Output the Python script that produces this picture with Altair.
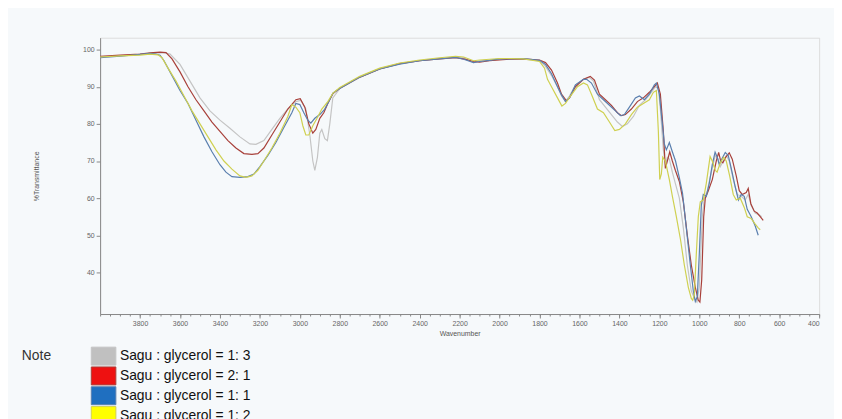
import altair as alt
import pandas as pd

names = ["Sagu : glycerol = 1: 3", "Sagu : glycerol = 2: 1",
         "Sagu : glycerol = 1: 1", "Sagu : glycerol = 1: 2"]
line_colors = ["#c4c4c4", "#a8403a", "#5a7fae", "#cfd050"]
swatch_colors = ["#c0c0c0", "#ee1111", "#1f6fc0", "#ffff00"]

wn_gray = [4000, 3900, 3800, 3750, 3680, 3650, 3600, 3550, 3500, 3450, 3400, 3350, 3300, 3250, 3220,
           3180, 3140, 3100, 3060, 3020, 2995, 2970, 2950, 2935, 2925, 2912, 2900, 2890, 2875, 2862,
           2850, 2835, 2800, 2700, 2600, 2500, 2400, 2300, 2220, 2180, 2130, 2100, 2050, 2000, 1950,
           1880, 1800, 1770, 1740, 1710, 1690, 1670, 1650, 1620, 1580, 1550, 1530, 1500, 1470, 1440,
           1410, 1385, 1360, 1330, 1300, 1270, 1240, 1220, 1205, 1195, 1180, 1170, 1160, 1150, 1135,
           1120, 1100, 1080, 1060, 1040, 1020, 1012, 1000, 985, 975, 960, 940, 920, 905, 895,
           880, 865, 850, 830, 810, 790, 770, 755, 740, 720, 700, 688]
t_gray = [98.0, 98.3, 98.7, 99.0, 99.2, 98.8, 96.0, 91.5, 87.0, 83.5, 81.0, 78.8, 76.5, 74.6, 74.5,
          75.5, 78.5, 81.5, 84.0, 86.0, 86.3, 84.0, 77.0, 70.0, 67.5, 71.0, 77.5, 78.5, 76.0, 75.5,
          80.0, 87.0, 89.5, 92.5, 94.8, 96.2, 97.0, 97.6, 98.0, 97.8, 96.5, 97.0, 97.2, 97.4, 97.5,
          97.4, 97.0, 95.5, 93.0, 90.0, 87.5, 86.0, 87.5, 90.5, 92.0, 92.5, 91.5, 86.5, 84.5, 82.5,
          80.5, 79.3, 80.0, 82.0, 85.0, 86.5, 88.5, 90.0, 89.5, 84.0, 73.0, 69.0, 71.0, 70.5, 67.0,
          64.0, 60.0, 52.0, 42.0, 35.0, 32.5, 32.0, 36.0, 55.0, 60.0, 62.0, 67.0, 71.5, 70.5, 68.5,
          70.0, 71.5, 70.0, 65.0, 61.0, 60.5, 59.5, 61.0, 58.0, 56.0, 55.5, 55.0]

wn_red = [4000, 3900, 3800, 3750, 3700, 3670, 3640, 3600, 3560, 3520, 3480, 3440, 3400, 3360, 3320,
          3280, 3240, 3210, 3180, 3140, 3100, 3060, 3020, 2998, 2975, 2955, 2935, 2920, 2900, 2880,
          2860, 2834, 2800, 2700, 2600, 2500, 2400, 2300, 2220, 2180, 2130, 2100, 2050, 2000, 1950,
          1880, 1800, 1770, 1740, 1710, 1690, 1665, 1650, 1620, 1580, 1546, 1525, 1500, 1470, 1440,
          1410, 1390, 1370, 1340, 1310, 1280, 1250, 1225, 1210, 1195, 1180, 1170, 1160, 1148, 1135,
          1120, 1100, 1080, 1060, 1040, 1020, 1005, 997, 988, 978, 970, 955, 935, 915, 903,
          893, 882, 868, 850, 835, 815, 800, 785, 765, 755, 742, 725, 710, 695, 680]
t_red = [98.2, 98.5, 98.8, 99.1, 99.3, 99.2, 97.5, 94.0, 90.0, 86.5, 83.5, 80.5, 78.0, 75.5, 73.5,
         72.0, 71.8, 72.0, 73.5, 77.0, 80.5, 84.0, 86.5, 86.8, 84.5, 80.0, 77.5, 78.5, 81.5, 83.0,
         85.5, 88.2, 89.6, 92.6, 94.8, 96.2, 97.0, 97.5, 97.8, 97.5, 96.8, 96.6, 97.0, 97.2, 97.4,
         97.5, 97.2, 96.5, 94.5, 91.0, 88.0, 86.2, 87.0, 90.0, 92.0, 92.8, 91.8, 88.0, 86.5, 85.0,
         83.0, 82.2, 82.5, 84.0, 86.0, 87.0, 88.5, 90.0, 91.0, 88.0, 78.0, 68.0, 70.0, 72.5, 70.0,
         67.5, 64.5, 59.0, 50.0, 42.0, 36.0, 32.5, 32.0, 38.0, 55.0, 60.0, 62.0, 65.0, 70.0, 72.3,
         70.0, 69.5, 71.0, 72.2, 70.5, 66.0, 62.0, 61.0, 61.5, 62.6, 58.5, 56.5, 56.0, 55.0, 54.0]

wn_blue = [4000, 3900, 3800, 3750, 3720, 3700, 3680, 3650, 3600, 3560, 3520, 3480, 3440, 3400, 3370,
           3340, 3300, 3260, 3230, 3200, 3160, 3120, 3080, 3040, 3020, 3000, 2980, 2960, 2945, 2925,
           2900, 2876, 2855, 2834, 2800, 2700, 2600, 2500, 2400, 2300, 2220, 2180, 2130, 2100, 2050,
           2000, 1950, 1880, 1800, 1770, 1740, 1710, 1690, 1670, 1650, 1620, 1580, 1564, 1540, 1510,
           1480, 1450, 1420, 1395, 1375, 1350, 1320, 1300, 1275, 1250, 1225, 1215, 1200, 1185, 1175,
           1165, 1150, 1135, 1119, 1100, 1084, 1065, 1045, 1030, 1020, 1010, 1000, 990, 980, 965,
           950, 935, 921, 910, 900, 888, 870, 855, 840, 820, 804, 790, 775, 760, 740, 720, 705]
t_blue = [97.8, 98.2, 98.7, 99.0, 98.8, 98.5, 97.0, 94.0, 89.0, 85.5, 81.0, 76.5, 72.5, 69.0, 67.0,
          65.8, 65.6, 65.8, 66.5, 68.5, 71.5, 75.0, 79.0, 83.0, 85.5, 85.2, 83.0, 81.0, 80.2, 81.5,
          82.5, 83.9, 86.0, 88.3, 89.5, 92.6, 94.8, 96.1, 97.0, 97.5, 97.9, 97.4, 96.5, 96.8, 97.1,
          97.5, 97.5, 97.6, 97.1, 96.0, 93.5, 90.0, 87.8, 86.0, 87.0, 90.5, 92.0, 92.0, 91.0, 88.0,
          86.5, 85.0, 83.5, 82.2, 82.5, 84.5, 87.0, 87.5, 86.5, 88.0, 90.5, 91.0, 88.0, 80.0, 74.6,
          73.0, 75.0, 72.5, 70.0, 65.5, 61.3, 52.0, 42.0, 35.0, 32.2, 33.5, 45.0, 58.0, 61.0, 60.5,
          64.0, 69.0, 72.4, 71.0, 69.0, 70.5, 72.3, 71.5, 68.0, 63.0, 59.5, 61.0, 60.5, 57.0, 55.0,
          52.5, 50.0]

wn_yellow = [4000, 3900, 3800, 3750, 3710, 3690, 3660, 3620, 3580, 3540, 3500, 3460, 3420, 3380, 3340,
             3300, 3270, 3240, 3210, 3180, 3140, 3100, 3060, 3040, 3020, 3000, 2985, 2970, 2955, 2935,
             2916, 2890, 2860, 2834, 2800, 2700, 2600, 2500, 2400, 2300, 2220, 2180, 2130, 2100, 2050,
             2000, 1950, 1880, 1800, 1775, 1760, 1740, 1710, 1688, 1670, 1645, 1610, 1580, 1560, 1540,
             1510, 1480, 1450, 1423, 1400, 1370, 1340, 1310, 1280, 1250, 1230, 1215, 1205, 1198, 1190,
             1183, 1170, 1150, 1134, 1115, 1094, 1075, 1055, 1040, 1033, 1025, 1015, 1005, 995, 980,
             965, 946, 935, 920, 911, 895, 878, 865, 848, 830, 815, 795, 775, 760, 740, 720, 705, 695]
t_yellow = [98.0, 98.3, 98.5, 98.8, 98.6, 97.8, 95.0, 91.5, 87.5, 83.5, 80.0, 76.5, 73.0, 70.0, 67.8,
            66.0, 65.6, 66.0, 67.5, 70.0, 73.5, 77.5, 82.0, 85.2, 84.5, 83.0, 79.5, 77.0, 77.0, 79.5,
            81.3, 84.0, 86.0, 88.3, 89.8, 92.8, 95.0, 96.4, 97.2, 97.8, 98.2, 98.0, 97.0, 97.2, 97.4,
            97.6, 97.6, 97.5, 96.8, 95.0, 92.0, 90.0, 87.0, 84.8, 85.5, 87.5, 90.0, 91.0, 90.5, 88.0,
            84.0, 83.0, 80.5, 78.2, 78.5, 80.0, 82.5, 84.5, 85.5, 86.5, 88.5, 89.0, 78.0, 65.0, 66.5,
            71.0, 70.0, 65.0, 60.3, 55.0, 48.8, 42.0, 36.0, 33.0, 32.5, 34.0, 45.0, 55.0, 59.0, 59.5,
            64.0, 71.2, 70.0, 67.5, 67.0, 69.5, 71.0, 70.0, 66.0, 61.0, 59.5, 60.0, 57.5, 55.0, 54.5,
            53.0, 52.0, 51.5]

x_major = list(range(3800, 399, -200))
x_minor = list(range(4000, 399, -50))
y_ticks = [40, 50, 60, 70, 80, 90, 100]

frames = []
for name, wn, t in zip(names, [wn_gray, wn_red, wn_blue, wn_yellow],
                       [t_gray, t_red, t_blue, t_yellow]):
    frames.append(pd.DataFrame({"wn": wn, "t": t, "series": name}))
df = pd.concat(frames, ignore_index=True)

swatch_expr = " : ".join(
    f"datum.value === '{n}' ? '{c}'" for n, c in zip(names, swatch_colors)) + " : 'black'"

xscale = alt.Scale(domain=[4000, 400], nice=False, zero=False)
yscale = alt.Scale(domain=[28.8, 103.2], nice=False, zero=False)
color = alt.Color(
    "series:N",
    scale=alt.Scale(domain=names, range=line_colors),
    sort=names,
    legend=alt.Legend(
        title="Note", orient="none", legendX=-79, legendY=314,
        titleOrient="left", titleAnchor="start", titleBaseline="top",
        titleFont="Liberation Sans", titleFontSize=14, titleFontWeight="normal",
        titleColor="#333333", titlePadding=45,
        labelFont="Liberation Sans", labelFontSize=14, labelColor="#111111", labelOffset=9,
        symbolType="M-1.85,-1.35H1.85V1.35H-1.85Z", symbolSize=180, rowPadding=-3,
        symbolStrokeColor="black", symbolStrokeWidth=1, symbolOpacity=1,
        symbolFillColor=alt.ExprRef(expr=swatch_expr),
    ),
)

y_axis = alt.Axis(values=y_ticks, title="%Transmittance", grid=False, tickSize=4, format="d",
                  labelFontSize=7, labelColor="#666666", titleFontSize=7,
                  titleColor="#555555", titleFontWeight="normal", titlePadding=44,
                  domainColor="#888888", tickColor="#888888")

lines = alt.Chart(df).mark_line(strokeWidth=1.2).encode(
    x=alt.X("wn:Q", scale=xscale,
            axis=alt.Axis(values=x_major, orient="bottom", title="Wavenumber", grid=False,
                          tickSize=4, format="d",
                          labelFontSize=7, labelColor="#666666", titleFontSize=7,
                          titleColor="#555555", titleFontWeight="normal", titlePadding=3,
                          domainColor="#888888", tickColor="#888888", labelPadding=2)),
    y=alt.Y("t:Q", scale=yscale, axis=y_axis),
    color=color,
    detail="series:N",
)

minor = alt.Chart(df).mark_line(opacity=0).encode(
    x=alt.X("wn:Q", scale=xscale,
            axis=alt.Axis(values=x_minor, orient="bottom", labels=False, title=None,
                          grid=False, tickSize=2, domain=False, tickColor="#888888")),
    y=alt.Y("t:Q", scale=yscale, axis=y_axis),
    detail="series:N",
)

chart = alt.layer(lines, minor).resolve_axis(x="independent").properties(
    width=726, height=279,
    autosize=alt.AutoSizeParams(type="none"),
    padding={"left": 93, "top": 28, "right": 15, "bottom": 105},
    background="#f6f9fb",
).configure_view(stroke="#999999", strokeWidth=1).configure(font="Liberation Sans")

chart.save("out.html", embed_options={"renderer": "svg", "actions": False})
